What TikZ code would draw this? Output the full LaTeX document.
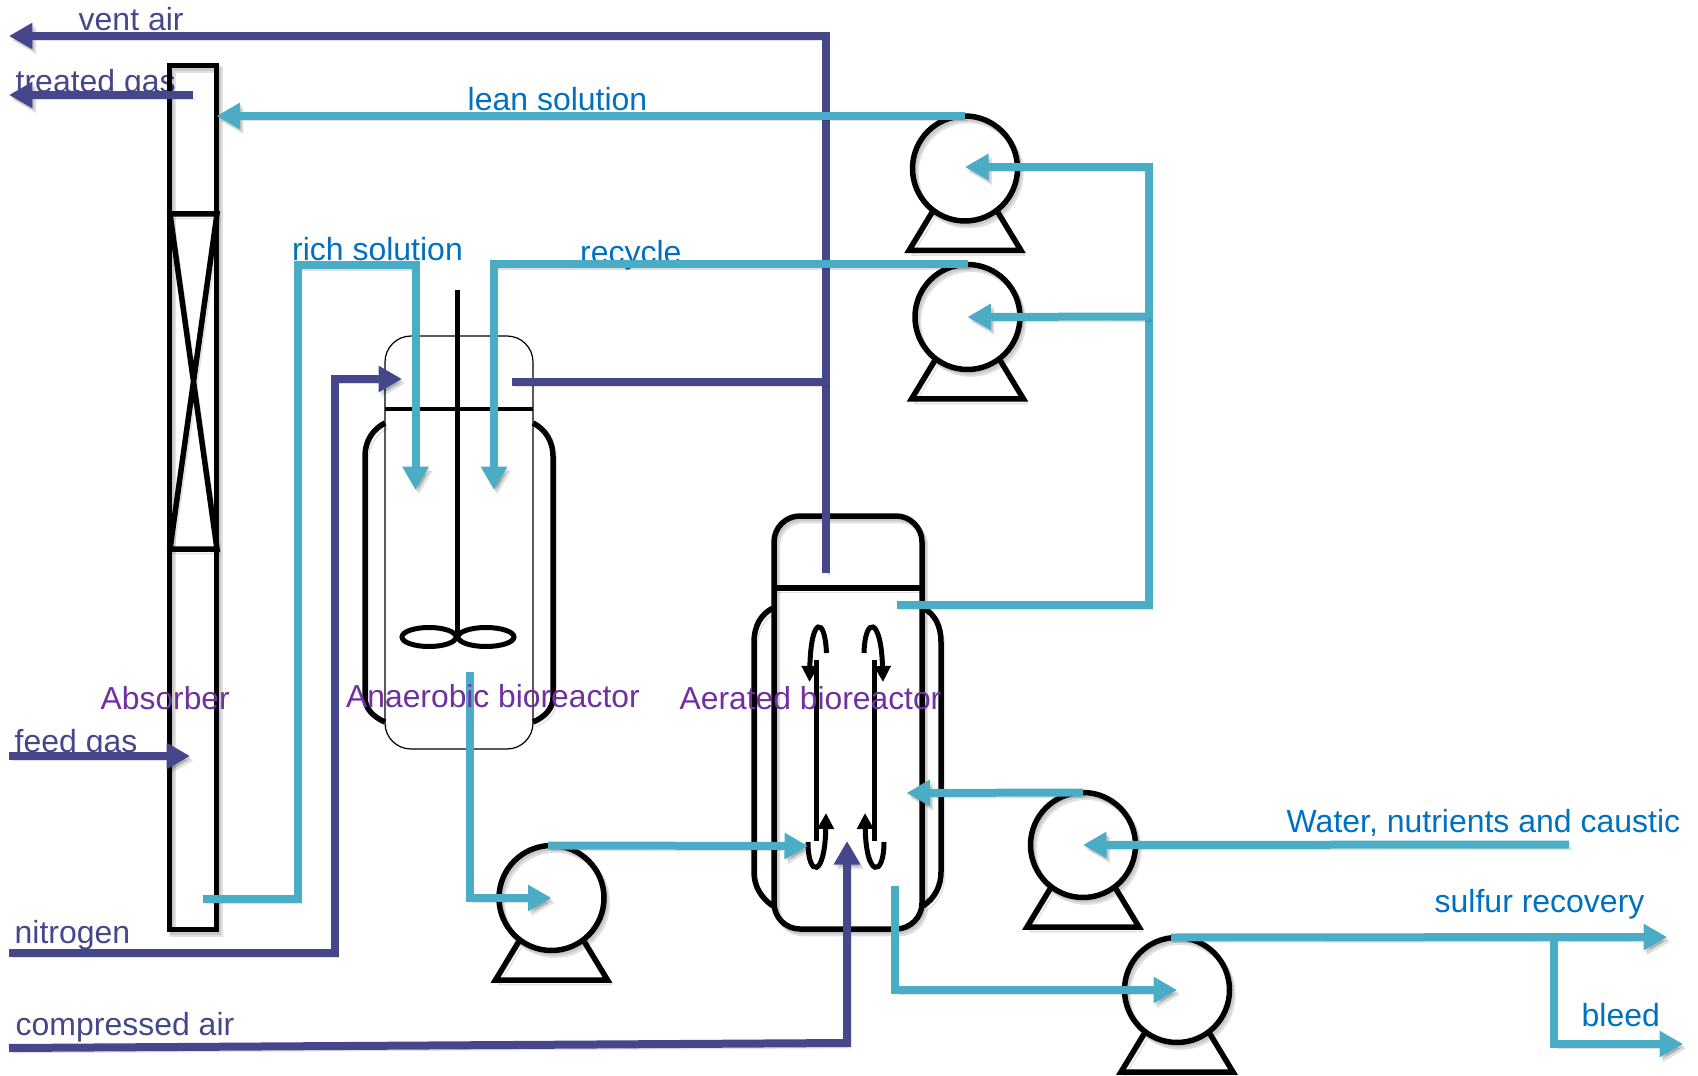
\documentclass[tikz,border=0pt]{standalone}
\usepackage{fontspec}
\setmainfont{Liberation Sans}
\usetikzlibrary{arrows.meta}
\definecolor{liquidblue}{HTML}{4BACC6}
\definecolor{gasnavy}{HTML}{45478A}
\definecolor{labelblue}{HTML}{0070C0}
\definecolor{labelpurple}{HTML}{7030A0}
\tikzset{
  softshade/.style={preaction={draw=black,opacity=.1,transform canvas={shift={(.18mm,-.24mm)}}},preaction={draw=black,opacity=.12,transform canvas={shift={(.34mm,-.46mm)}}}},
  liquid/.style={draw=liquidblue,line width=.8mm,softshade},
  gas/.style={draw=gasnavy,line width=.8mm,softshade},
  flowtip/.tip={Triangle[length=2.35mm,width=2.5mm]},
  wall/.style={draw=black,line width=.55mm,softshade},
  shaftline/.style={draw=black,line width=.5mm},
  vesselbox/.style={wall,rectangle,inner sep=0pt,outer sep=0pt,rounded corners=2.6mm},
  pumpbody/.style={wall,circle,inner sep=0pt,outer sep=0pt,minimum size=10.5mm},
  gaslabel/.style={anchor=base west,text=gasnavy,font=\fontsize{9.1}{11}\selectfont,inner sep=0pt},
  liquidlabel/.style={anchor=base west,text=labelblue,font=\fontsize{9.1}{11}\selectfont,inner sep=0pt},
  unitlabel/.style={anchor=base west,text=labelpurple,font=\fontsize{9.05}{11}\selectfont,inner sep=0pt}
}
\begin{document}
\begin{tikzpicture}[x=.1mm,y=-.1mm,line join=miter]
  \useasboundingbox (0,0) rectangle (1698,1076);

  \node[gaslabel] (ventlabel) at (78,31) {vent air};
  \node[gaslabel] (treatedlabel) at (15,93) {treated gas};
  \node[gaslabel] (feedlabel) at (14,752) {feed gas};
  \node[gaslabel] (nitrogenlabel) at (14,943) {nitrogen};
  \node[gaslabel] (airlabel) at (15,1035) {compressed air};
  \node[liquidlabel] (leanlabel) at (467,111) {lean solution};
  \node[liquidlabel] (richlabel) at (291.5,260) {rich solution};
  \node[liquidlabel] (recyclelabel) at (579.5,264) {recycle};
  \node[liquidlabel] (waterlabel) at (1286,832) {Water, nutrients and caustic};
  \node[liquidlabel] (sulfurlabel) at (1434,912) {sulfur recovery};
  \node[liquidlabel] (bleedlabel) at (1581,1026) {bleed};

  \node[wall,rectangle,inner sep=0pt,outer sep=0pt,minimum width=4.7mm,minimum height=86.4mm] (absorber) at (193,497.5) {};
  \draw[wall] (170,214) -- (217,214) -- (170,549) -- (217,549) -- cycle;

  \draw[wall] (385,423) .. controls (373,429) and (365,441) .. (365,456) -- (365,698) .. controls (365,708) and (373,717) .. (385,722);
  \draw[wall] (533,423) .. controls (545,429) and (553,441) .. (553,456) -- (553,698) .. controls (553,708) and (545,717) .. (533,722);
  \node[draw=black,line width=.12mm,rectangle,inner sep=0pt,outer sep=0pt,rounded corners=2.6mm,minimum width=14.8mm,minimum height=41.3mm] (anaerobic) at (459,542.5) {};
  \draw[shaftline] (anaerobic.west |- 0,409) -- (anaerobic.east |- 0,409);
  \draw[shaftline] (457,290) -- (457,637);
  \draw[shaftline] (429,637) ellipse [x radius=27,y radius=9.5];
  \draw[shaftline] (486,637) ellipse [x radius=28,y radius=9.5];

  \draw[wall] (773,608) .. controls (761,614) and (754,626) .. (754,642) -- (754,872) .. controls (754,886) and (761,898) .. (773,906);
  \draw[wall] (923,608) .. controls (935,614) and (941,626) .. (941,642) -- (941,872) .. controls (941,886) and (935,898) .. (923,906);
  \node[vesselbox,minimum width=14.8mm,minimum height=41.3mm] (aerated) at (848,722.5) {};
  \draw[wall] (aerated.west |- 0,588) -- (aerated.east |- 0,588);
  \draw[shaftline] (816,660) -- (816,841);
  \draw[shaftline] (874,660) -- (874,841);
  \draw[shaftline,-{Triangle[length=1.6mm,width=1.6mm]}] (826.5,653) .. controls (825,616) and (811,616) .. (809.5,682);
  \draw[shaftline,-{Triangle[length=1.6mm,width=1.6mm]}] (864,653) .. controls (865,616) and (881,616) .. (883,682);
  \draw[shaftline,-{Triangle[length=1.6mm,width=1.6mm]}] (808,842) .. controls (808,878) and (825,878) .. (826,813);
  \draw[shaftline,-{Triangle[length=1.6mm,width=1.6mm]}] (884,842) .. controls (884,878) and (866,878) .. (865,813);

  \foreach \pumpname/\px/\py in {pumplean/965/168.5,pumprecycle/967.5/317,pumprich/551.5/898,pumpfeed/1083/845,pumpsulfur/1177/990} {
    \node[pumpbody] (\pumpname) at (\px,\py) {};
    \draw[wall] (\pumpname.center) ++(-33,44) -- ++(-23,38) -- ++(112,0) -- ++(-23,-38);
  }

  \coordinate (ventend) at (9,36);
  \coordinate (ventstart) at (826,572.7);
  \coordinate (ventjoin) at (512,382);
  \coordinate (treatedstart) at (192.5,95);
  \coordinate (treatedend) at (9,95);
  \coordinate (feedstart) at (9,756);
  \coordinate (feedend) at (190,756);
  \coordinate (nitrogenstart) at (9,953);
  \coordinate (nitrogenend) at (402,379);
  \coordinate (airstart) at (9,1048);
  \coordinate (airend) at (847,841);
  \coordinate (richstart) at (202.5,899);
  \coordinate (richend) at (415.5,490);
  \coordinate (recycleend) at (494,490);
  \coordinate (anaerobicout) at (470,672);
  \coordinate (aeratedin) at (808,846);
  \coordinate (aeratedfeed) at (906.5,793);
  \coordinate (aeratedtop) at (897,605);
  \coordinate (aeratedout) at (895,886);
  \coordinate (waterstart) at (1569,844.5);
  \coordinate (sulfurend) at (1667,937);
  \coordinate (bleedend) at (1683,1044);

  \draw[gas,-flowtip] (ventstart) -- (ventstart |- ventend) -- (ventend);
  \draw[gas] (ventjoin) -- (ventjoin -| ventstart);
  \draw[gas,-flowtip] (treatedstart) -- (treatedend);
  \draw[gas,-flowtip] (feedstart) -- (feedend);
  \draw[gas,-flowtip] (nitrogenstart) -- (334.5,953) -- (334.5,379) -- (nitrogenend);
  \draw[gas,-flowtip] (airstart) -- (847,1043) -- (airend);

  \draw[liquid,-flowtip] (pumplean.north) -- (pumplean.north -| absorber.east);
  \draw[liquid,-flowtip] (richstart) -- (298,899) -- (298,265.5) -- (415.5,265.5) -- (richend);
  \draw[liquid,-flowtip] (pumprecycle.north) -- (recycleend |- pumprecycle.north) -- (recycleend);
  \draw[liquid,-flowtip] (anaerobicout) -- (anaerobicout |- pumprich.center) -- (pumprich.center);
  \draw[liquid,-flowtip] ([xshift=-.35mm]pumprich.north) -- (aeratedin);
  \draw[liquid,-flowtip] (aeratedtop) -- (1149,605) -- (1149,167) -- (pumplean.center |- 0,167);
  \draw[liquid,-flowtip] (1149,316.5) -- (pumprecycle.center);
  \draw[liquid,-flowtip] (pumpfeed.north) -- (aeratedfeed);
  \draw[liquid,-flowtip] (waterstart) -- (pumpfeed.center);
  \draw[liquid,-flowtip] (aeratedout) -- (aeratedout |- pumpsulfur.center) -- (pumpsulfur.center);
  \draw[liquid,-flowtip] ([xshift=-.6mm]pumpsulfur.north) -- (sulfurend);
  \draw[liquid,-flowtip] (1554,937) -- (1554,1044) -- (bleedend);

  \node[unitlabel] (absorberlabel) at (100,709) {Absorber};
  \node[unitlabel] (anaerobiclabel) at (345.5,707) {Anaerobic bioreactor};
  \node[unitlabel] (aeratedlabel) at (679,709) {Aerated bioreactor};
\end{tikzpicture}
\end{document}
